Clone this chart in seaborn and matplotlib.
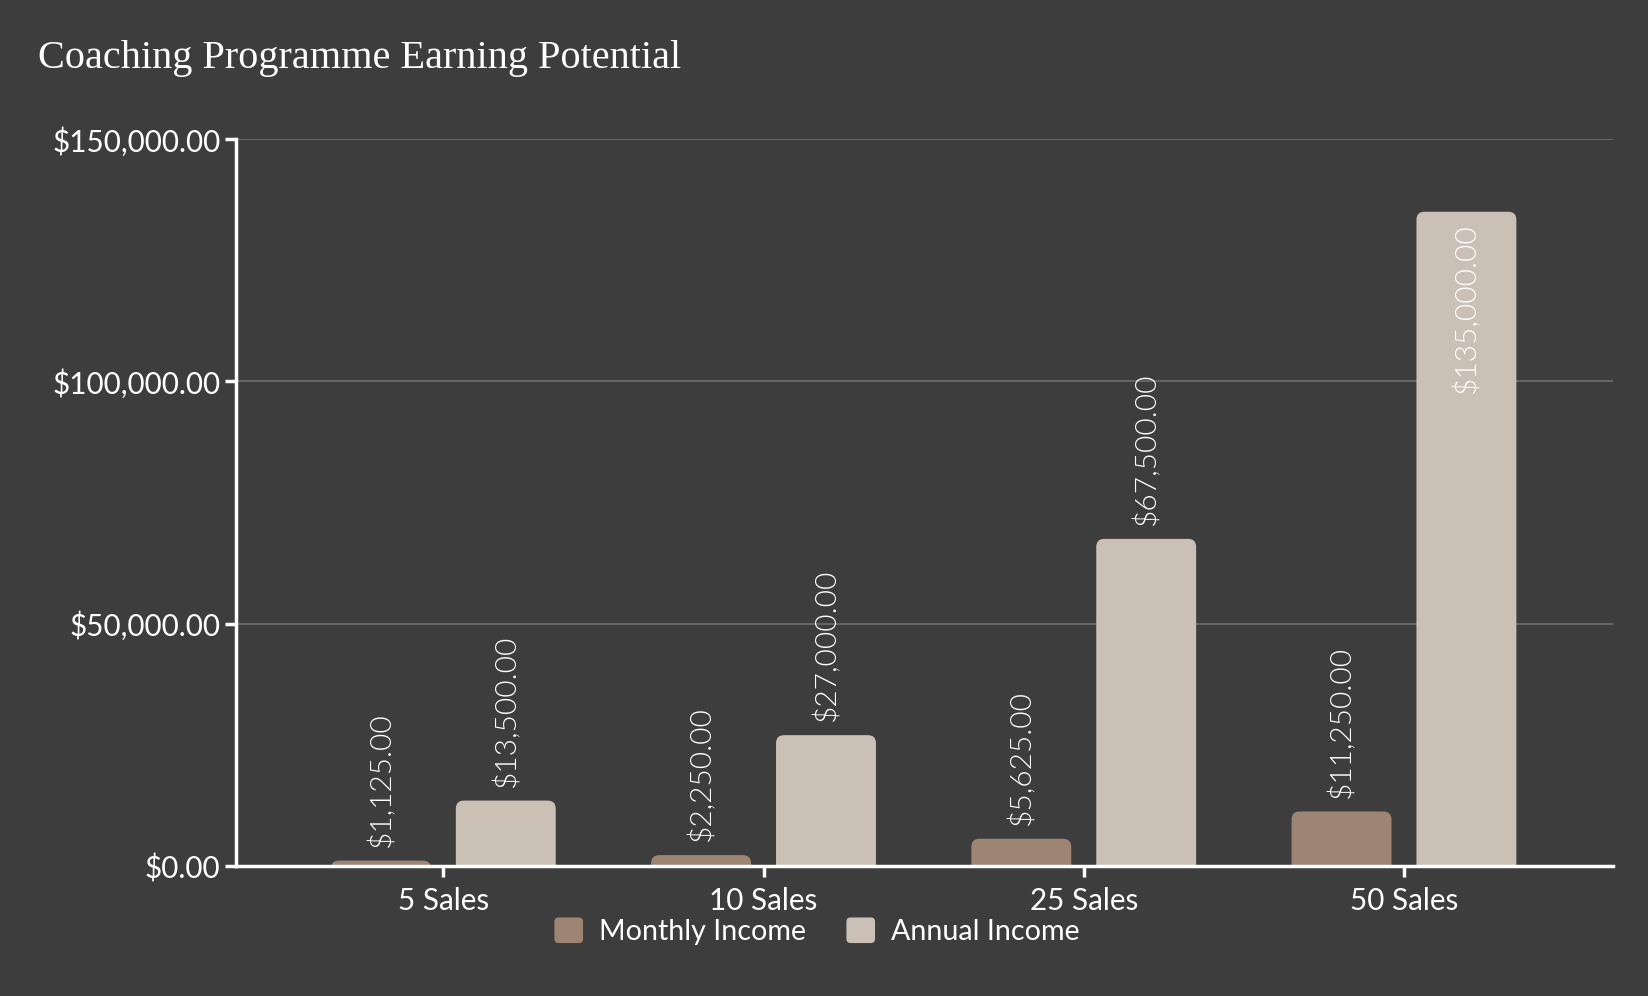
import pandas as pd
import matplotlib.pyplot as plt
from matplotlib.patches import FancyBboxPatch, Patch
from matplotlib.legend_handler import HandlerPatch
import seaborn as sns

# chart data
categories = ['5 Sales', '10 Sales', '25 Sales', '50 Sales']
monthly_income = [1125, 2250, 5625, 11250]
annual_income = [13500, 27000, 67500, 135000]
series_names = ['Monthly Income', 'Annual Income']
y_ticks = [0, 50000, 100000, 150000]

BG = '#3d3d3d'
colors = {'Monthly Income': '#9e8573', 'Annual Income': '#cbc0b5'}

df = pd.DataFrame({
    'Sales': categories * 2,
    'Income': monthly_income + annual_income,
    'Series': [series_names[0]] * 4 + [series_names[1]] * 4,
})

sns.set_style('dark', rc={'axes.facecolor': BG, 'figure.facecolor': BG})
plt.rcParams['font.family'] = ['Lato', 'DejaVu Sans']

fig = plt.figure(figsize=(16.48, 9.96), dpi=100)
ax = fig.add_axes([0.1435, 0.1305, 0.8353, 0.7299])

sns.barplot(data=df, x='Sales', y='Income', hue='Series', palette=colors,
            width=0.78, gap=0.2, legend=False, ax=ax, saturation=1)

ax.set_xlim(-0.646, 3.653)
ax.set_ylim(0, 150000)

# swap seaborn rectangles for rounded-top ones
bars = list(ax.patches)
for p in bars:
    x, w, h = p.get_x(), p.get_width(), p.get_height()
    fc = p.get_facecolor()
    p.remove()
    rb = FancyBboxPatch((x, -3000), w, h + 3000,
                        boxstyle='round,pad=0,rounding_size=0.025',
                        mutation_aspect=66000, facecolor=fc,
                        edgecolor='none', zorder=2)
    ax.add_patch(rb)
    label = f'${h:,.2f}'
    if h > 0.8 * 150000:
        ax.annotate(label, (x + w / 2, h), xytext=(0, -8), textcoords='offset points',
                    rotation=90, ha='center', va='top', color='white',
                    fontsize=21.5, fontweight=300, zorder=3)
    else:
        ax.annotate(label, (x + w / 2, h), xytext=(0, 10), textcoords='offset points',
                    rotation=90, ha='center', va='bottom', color='white',
                    fontsize=21.5, fontweight=300, zorder=3)

ax.set_yticks(y_ticks)
ax.set_yticklabels([f'${v:,.2f}' for v in y_ticks])
ax.yaxis.grid(True, color='#6a6a6a', linewidth=1.3)
ax.xaxis.grid(False)
ax.set_axisbelow(True)

for s in ['top', 'right']:
    ax.spines[s].set_visible(False)
for s in ['left', 'bottom']:
    ax.spines[s].set_visible(True)
    ax.spines[s].set_color('white')
    ax.spines[s].set_linewidth(2.5)

ax.tick_params(axis='both', colors='white', labelsize=21.3, length=8, width=2.5,
               direction='out', left=True, bottom=True)
ax.tick_params(axis='x', pad=7)
ax.set_xlabel('')
ax.set_ylabel('')

fig.text(0.023, 0.941, 'Coaching Programme Earning Potential', color='white',
         fontsize=29, family='Liberation Serif', va='center', ha='left')


class RoundHandler(HandlerPatch):
    def create_artists(self, legend, orig_handle, xdescent, ydescent,
                       width, height, fontsize, trans):
        p = FancyBboxPatch((-xdescent, -ydescent), width, height,
                           boxstyle='round,pad=0,rounding_size=3',
                           facecolor=orig_handle.get_facecolor(),
                           edgecolor='none', transform=trans)
        return [p]


handles = [Patch(facecolor=colors[n], edgecolor='none', label=n) for n in series_names]
fig.legend(handles=handles, loc='center', bbox_to_anchor=(0.4957, 0.065), ncol=2,
           frameon=False, fontsize=20.6, labelcolor='white', handlelength=1.0,
           handleheight=1.0, columnspacing=1.42, handletextpad=0.55,
           handler_map={Patch: RoundHandler()})

plt.savefig('out.png', dpi=100, facecolor=BG)
